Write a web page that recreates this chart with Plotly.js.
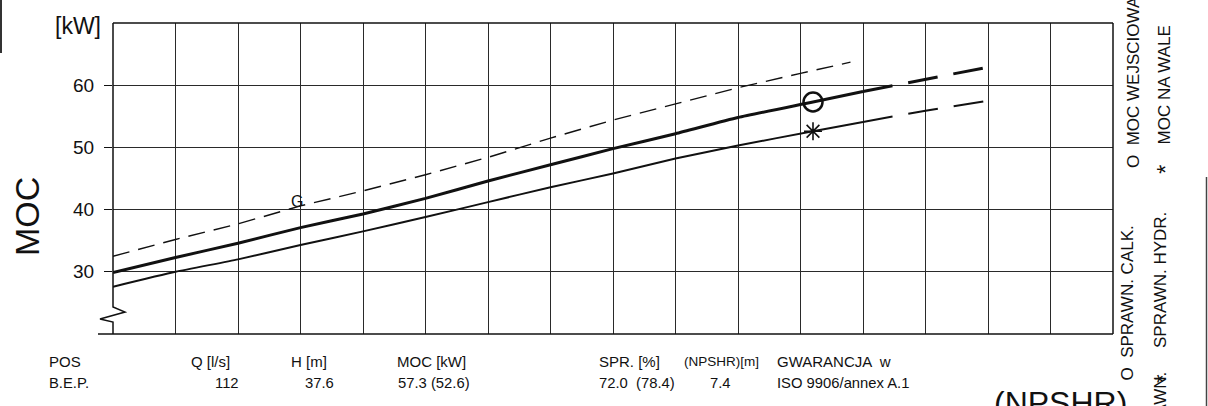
<!DOCTYPE html>
<html>
<head>
<meta charset="utf-8">
<script src="https://cdn.plot.ly/plotly-3.0.1.min.js"></script>
<style>
html,body{margin:0;padding:0;background:#fff;overflow:hidden;}
#chart{width:1208px;height:406px;}
</style>
</head>
<body>
<div id="chart"></div>
<script>
// ---- data ----
const qMain = [0, 10, 20, 30, 40, 50, 60, 70, 80, 90, 100, 112, 120];          // Q [l/s]
const mocWejsciowa = [29.9, 32.3, 34.6, 37.1, 39.3, 41.8, 44.6, 47.2, 49.8, 52.2, 54.8, 57.3, 59.0]; // input power [kW]
const mocNaWale = [27.6, 30.0, 32.0, 34.3, 36.5, 38.8, 41.2, 43.6, 45.8, 48.2, 50.3, 52.6, 54.1];    // shaft power [kW]
const qExt = [120, 130, 140];
const mocWejsciowaExt = [59.0, 61.0, 62.9];
const mocNaWaleExt = [54.1, 55.9, 57.5];
const qGuar = [0, 10, 20, 30, 40, 50, 60, 70, 80, 90, 100, 110, 118];
const mocGuar = [32.5, 35.2, 37.7, 40.6, 43.0, 45.6, 48.4, 51.5, 54.4, 57.0, 59.6, 61.9, 63.7];
const bepQ = [112];
const bepMocWej = [57.3];
const bepMocWal = [52.6];
const xGrid = [10, 20, 30, 40, 50, 60, 70, 80, 90, 100, 110, 120, 130, 140, 150];
const yTicks = [30, 40, 50, 60];
const yTickText = ['30', '40', '50', '60'];
const tableHead = ['POS', 'Q [l/s]', 'H [m]', 'MOC [kW]', 'SPR. [%]', '(NPSHR)[m]', 'GWARANCJA  w'];
const tableRow = ['B.E.P.', '112', '37.6', '57.3 (52.6)', '72.0  (78.4)', '7.4', 'ISO 9906/annex A.1'];

// ---- layout helpers (pixel -> paper) ----
const W = 1208, H = 406, L = 113, R = 95, T = 23, B = 72;
const PW = W - L - R, PH = H - T - B;
const px = x => (x - L) / PW;
const py = y => (H - B - y) / PH;

const FONT = 'Arial, "Liberation Sans", sans-serif';
const INK = '#111';

const traces = [
  {x: qGuar, y: mocGuar, mode: 'lines', line: {color: INK, width: 1.4, dash: '17px,9px'}, hoverinfo: 'skip'},
  {x: qMain, y: mocWejsciowa, mode: 'lines', line: {color: INK, width: 3, shape: 'spline', smoothing: 0.5}, hoverinfo: 'skip'},
  {x: qExt, y: mocWejsciowaExt, mode: 'lines', line: {color: INK, width: 3, dash: '30px,16px'}, hoverinfo: 'skip'},
  {x: qMain, y: mocNaWale, mode: 'lines', line: {color: INK, width: 2, shape: 'spline', smoothing: 0.5}, hoverinfo: 'skip'},
  {x: qExt, y: mocNaWaleExt, mode: 'lines', line: {color: INK, width: 2, dash: '30px,16px'}, hoverinfo: 'skip'},
  {x: bepQ, y: bepMocWej, mode: 'markers', marker: {symbol: 'circle-open', size: 19, color: INK, line: {width: 2.5, color: INK}}, hoverinfo: 'skip'},
  {x: bepQ, y: bepMocWal, mode: 'markers', marker: {symbol: 'asterisk-open', size: 15, color: INK, line: {width: 1.6, color: INK}}, hoverinfo: 'skip'}
];

const colX = [47, 189, 289, 395, 597, 682, 775];
const colX2 = [47, 213, 303, 396, 597, 708, 775];
const annotations = [];
tableHead.forEach((t, i) => annotations.push({
  xref: 'paper', yref: 'paper', x: px(colX[i]), y: py(361), xanchor: 'left', yanchor: 'middle',
  text: t, showarrow: false, font: {family: FONT, size: i === 5 ? 13.5 : 15, color: INK}
}));
tableRow.forEach((t, i) => annotations.push({
  xref: 'paper', yref: 'paper', x: px(colX2[i]), y: py(383), xanchor: 'left', yanchor: 'middle',
  text: t, showarrow: false, font: {family: FONT, size: 14.8, color: INK}
}));
annotations.push(
  {xref: 'paper', yref: 'paper', x: px(103), y: py(26), xanchor: 'right', yanchor: 'middle', text: '[kW]', showarrow: false, font: {family: FONT, size: 23, color: INK}},
  {xref: 'paper', yref: 'paper', x: px(27), y: py(217), xanchor: 'center', yanchor: 'middle', text: 'MOC', textangle: -90, showarrow: false, font: {family: FONT, size: 34, color: INK}},
  {x: qGuar[3], y: mocGuar[3], xanchor: 'center', yanchor: 'middle', xshift: -4, yshift: 4, text: 'G', showarrow: false, font: {family: FONT, size: 16, color: INK}},
  {xref: 'paper', yref: 'paper', x: px(1133), y: py(170), xanchor: 'center', yanchor: 'bottom', text: 'O  MOC WEJSCIOWA', textangle: -90, showarrow: false, font: {family: FONT, size: 17, color: INK}},
  {xref: 'paper', yref: 'paper', x: px(1164), y: py(147), xanchor: 'center', yanchor: 'bottom', text: 'MOC NA WALE', textangle: -90, showarrow: false, font: {family: FONT, size: 17, color: INK}},
  {xref: 'paper', yref: 'paper', x: px(1165), y: py(170), xanchor: 'center', yanchor: 'middle', text: '*', textangle: -90, showarrow: false, font: {family: FONT, size: 24, color: INK}},
  {xref: 'paper', yref: 'paper', x: px(1127), y: py(383), xanchor: 'center', yanchor: 'bottom', text: 'O  SPRAWN. CALK.', textangle: -90, showarrow: false, font: {family: FONT, size: 17, color: INK}},
  {xref: 'paper', yref: 'paper', x: px(1160), y: py(350), xanchor: 'center', yanchor: 'bottom', text: 'SPRAWN. HYDR.', textangle: -90, showarrow: false, font: {family: FONT, size: 17, color: INK}},
  {xref: 'paper', yref: 'paper', x: px(1160), y: py(370), xanchor: 'center', yanchor: 'top', text: 'SPRAWN.', textangle: -90, showarrow: false, font: {family: FONT, size: 17, color: INK}},
  {xref: 'paper', yref: 'paper', x: px(1162), y: py(379), xanchor: 'center', yanchor: 'middle', text: '*', textangle: -90, showarrow: false, font: {family: FONT, size: 22, color: INK}},
  {xref: 'paper', yref: 'paper', x: px(992), y: py(383), xanchor: 'left', yanchor: 'top', text: '(NPSHR)', showarrow: false, font: {family: FONT, size: 32, color: INK}}
);

const frame = {color: INK, width: 1.5};
const shapes = [
  {type: 'line', xref: 'paper', yref: 'paper', x0: 0, x1: 1, y0: 1, y1: 1, line: frame},
  {type: 'line', xref: 'paper', yref: 'paper', x0: 1, x1: 1, y0: 0, y1: 1, line: frame},
  {type: 'line', xref: 'paper', yref: 'paper', x0: px(98), x1: 1, y0: 0, y1: 0, line: frame},
  {type: 'path', xref: 'paper', yref: 'paper', line: frame,
   path: `M0,1 L0,${py(307)} L${px(125)},${py(312)} L${px(100)},${py(319)} L0,${py(322)} L0,0`},
  // scan edge artifacts
  {type: 'line', xref: 'paper', yref: 'paper', x0: px(1), x1: px(1), y0: py(0), y1: py(53), line: {color: '#333', width: 2}},
  {type: 'line', xref: 'paper', yref: 'paper', x0: px(1206.5), x1: px(1206.5), y0: py(177), y1: py(406), line: {color: '#444', width: 1.5}}
];

const layout = {
  width: W, height: H, autosize: false,
  margin: {l: L, r: R, t: T, b: B, pad: 0},
  paper_bgcolor: '#fff', plot_bgcolor: '#fff',
  showlegend: false,
  font: {family: FONT, color: INK},
  xaxis: {range: [0, 160], tickvals: xGrid, showticklabels: false, ticks: '', showgrid: true,
          gridcolor: '#2a2a2a', gridwidth: 1, zeroline: false, showline: false, fixedrange: true},
  yaxis: {range: [20, 70], tickvals: yTicks, ticktext: yTickText, ticks: 'outside', ticklen: 8, tickwidth: 1.3,
          tickcolor: INK, ticklabelstandoff: 6, tickfont: {family: FONT, size: 19, color: INK},
          showgrid: true, gridcolor: '#2a2a2a', gridwidth: 1, zeroline: false, showline: false, fixedrange: true},
  annotations: annotations,
  shapes: shapes
};

Plotly.newPlot('chart', traces, layout, {staticPlot: true, displayModeBar: false});
</script>
</body>
</html>
